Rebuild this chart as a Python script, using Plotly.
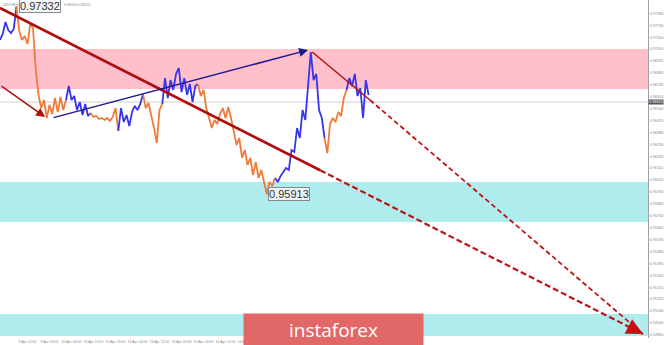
import plotly.graph_objects as go

# ---------------- data ----------------
hours = list(range(135))
close = [0.97079, 0.97124, 0.97215, 0.97154, 0.97131, 0.97162, 0.97332, 0.97147, 0.97079, 0.97109,
         0.97048, 0.97200, 0.97169, 0.96852, 0.96663, 0.96564, 0.96625, 0.96489, 0.96587, 0.96519,
         0.96640, 0.96534, 0.96648, 0.96549, 0.96625, 0.96731, 0.96625, 0.96655, 0.96549, 0.96610,
         0.96512, 0.96595, 0.96504, 0.96527, 0.96497, 0.96504, 0.96481, 0.96489, 0.96474, 0.96489,
         0.96466, 0.96497, 0.96564, 0.96391, 0.96564, 0.96459, 0.96512, 0.96428, 0.96534, 0.96580,
         0.96549, 0.96595, 0.96670, 0.96564, 0.96602, 0.96519, 0.96413, 0.96300, 0.96549, 0.96595,
         0.96791, 0.96640, 0.96776, 0.96701, 0.96822, 0.96867, 0.96685, 0.96791, 0.96663, 0.96746,
         0.96610, 0.96731, 0.96746, 0.96655, 0.96701, 0.96564, 0.96489, 0.96413, 0.96474, 0.96444,
         0.96519, 0.96564, 0.96489, 0.96572, 0.96489, 0.96398, 0.96285, 0.96338, 0.96187, 0.96247,
         0.96134, 0.96187, 0.96058, 0.96156, 0.96035, 0.96096, 0.95997, 0.95913, 0.96005, 0.95975,
         0.96035, 0.96005, 0.96050, 0.96081, 0.96111, 0.96096, 0.96247, 0.96232, 0.96413, 0.96338,
         0.96549, 0.96474, 0.96701, 0.96988, 0.96776, 0.96822, 0.96549, 0.96489, 0.96338, 0.96224,
         0.96444, 0.96489, 0.96459, 0.96534, 0.96504, 0.96640, 0.96701, 0.96791, 0.96731, 0.96822,
         0.96655, 0.96716, 0.96489, 0.96776, 0.96663]
wave_breaks = [0, 6, 24, 33, 43, 52, 59, 72, 100, 118, 126, 134]
wave_colors = ["#3535ee", "#f27a38"]

# zones (price bands)
pink_zone = [0.96708, 0.97011]
cyan_zone1 = [0.95703, 0.96005]
cyan_zone2 = [0.94841, 0.95007]
current_price = 0.96610

# wave lines (time index, price)
trend_x = [0, 116.4, 233.8]
trend_y = [0.97321, 0.96094, 0.94856]
fall_x = [113.5, 134.5, 233.8]
fall_y = [0.96988, 0.96625, 0.94856]
rise_x = [18.9, 112.0]
rise_y = [0.96489, 0.97003]
first_x = [0.0, 16.4]
first_y = [0.96738, 0.96497]
tip_tail = [229.5, 0.94902]

high_label = (6.9, 0.97332, "0.97332")
low_label = (97.6, 0.95913, "0.95913")
title_left = "USDCHF,H1"
title_right = "0.96604 0.96622"

y_ticks = [0.97370 - 0.0009 * i for i in range(29)]
x_tickvals = [2, 10, 18, 26, 34, 42, 50, 58, 66, 74, 82, 90]
x_ticktext = ["8 Apr 2020", "9 Apr 12:00", "9 Apr 20:00", "10 Apr 04:00", "10 Apr 12:00",
              "10 Apr 20:00", "13 Apr 04:00", "13 Apr 12:00", "13 Apr 20:00", "14 Apr 04:00",
              "14 Apr 12:00", "14 Apr 20:00"]

x_range = [0, 235.6]
y_range = [0.94826, 0.97381]

# ---------------- figure ----------------
fig = go.Figure()

shapes = []
for z, c in [(pink_zone, "#ffc0cb"), (cyan_zone1, "#aeeced"), (cyan_zone2, "#aeeced")]:
    shapes.append(dict(type="rect", xref="paper", yref="y", x0=0, x1=1, y0=z[0], y1=z[1],
                       fillcolor=c, line=dict(width=0), layer="below"))
shapes.append(dict(type="line", xref="paper", yref="y", x0=0, x1=1, y0=current_price,
                   y1=current_price, line=dict(color="#d0d0d0", width=1), layer="below"))

for i in range(len(wave_breaks) - 1):
    a, b = wave_breaks[i], wave_breaks[i + 1]
    fig.add_trace(go.Scatter(x=hours[a:b + 1], y=close[a:b + 1], mode="lines",
                             line=dict(color=wave_colors[i % 2], width=1.8),
                             hoverinfo="skip", showlegend=False))

# main trend line: solid then dashed
fig.add_trace(go.Scatter(x=trend_x[:2], y=trend_y[:2], mode="lines",
                         line=dict(color="#b00c0c", width=2.6), showlegend=False))
fig.add_trace(go.Scatter(x=trend_x[1:], y=trend_y[1:], mode="lines",
                         line=dict(color="#c01414", width=2.2, dash="6px,3px"), showlegend=False))
fig.add_trace(go.Scatter(x=fall_x[:2], y=fall_y[:2], mode="lines",
                         line=dict(color="#b81010", width=1.5), showlegend=False))
fig.add_trace(go.Scatter(x=fall_x[1:], y=fall_y[1:], mode="lines",
                         line=dict(color="#c01414", width=1.8, dash="5px,3px"), showlegend=False))

annotations = [
    dict(x=rise_x[1], y=rise_y[1], ax=rise_x[0], ay=rise_y[0], xref="x", yref="y",
         axref="x", ayref="y", text="", showarrow=True, arrowhead=2, arrowsize=1.2,
         arrowwidth=1.5, arrowcolor="#1c1c90", standoff=0),
    dict(x=first_x[1], y=first_y[1], ax=first_x[0], ay=first_y[0], xref="x", yref="y",
         axref="x", ayref="y", text="", showarrow=True, arrowhead=2, arrowsize=1.2,
         arrowwidth=1.5, arrowcolor="#b00c0c", standoff=0),
    dict(x=trend_x[2], y=trend_y[2], ax=tip_tail[0], ay=tip_tail[1], xref="x", yref="y",
         axref="x", ayref="y", text="", showarrow=True, arrowhead=2, arrowsize=1.5,
         arrowwidth=2.2, arrowcolor="#c01414", standoff=0),
]
for lx, ly, lt in [high_label, low_label]:
    annotations.append(dict(x=lx, y=ly, xref="x", yref="y", text=lt, showarrow=False,
                            xanchor="left", yanchor="middle",
                            font=dict(family="Liberation Sans", size=11, color="#333333"),
                            bgcolor="rgba(245,245,245,0.9)", bordercolor="#888888",
                            borderwidth=1, borderpad=0))
annotations.append(dict(x=1, y=current_price, xref="paper", yref="y", text="%.5f" % current_price,
                        showarrow=False, xanchor="left", yanchor="middle",
                        font=dict(family="Liberation Sans", size=3.8, color="white"),
                        bgcolor="#555555", borderpad=0))
annotations.append(dict(x=0.0015, y=0.998, xref="paper", yref="paper", text=title_left,
                        showarrow=False, xanchor="left", yanchor="top",
                        font=dict(family="Liberation Sans", size=3, color="#888888")))
annotations.append(dict(x=0.096, y=0.998, xref="paper", yref="paper", text=title_right,
                        showarrow=False, xanchor="left", yanchor="top",
                        font=dict(family="Liberation Sans", size=3.5, color="#888888")))
annotations.append(dict(x=0.5147, y=0.0266, xref="paper", yref="paper", text="instaforex",
                        showarrow=False, xanchor="center", yanchor="middle",
                        width=177, height=29, bgcolor="#e26868",
                        font=dict(family="Open Sans", size=19, color="white")))

fig.update_layout(
    width=665, height=345,
    margin=dict(l=0, r=17, t=0, b=7, pad=0, autoexpand=False),
    plot_bgcolor="white", paper_bgcolor="white",
    shapes=shapes, annotations=annotations, showlegend=False,
    xaxis=dict(range=x_range, showgrid=False, zeroline=False, showline=False,
               tickvals=x_tickvals, ticktext=x_ticktext, ticks="", ticklen=0,
               tickangle=0, automargin=False,
               tickfont=dict(family="Liberation Sans", size=3.5, color="#888888"), fixedrange=True),
    yaxis=dict(range=y_range, side="right", showgrid=False, zeroline=False,
               showline=True, linecolor="#a0a0a0", linewidth=1, automargin=False,
               tickvals=y_ticks, ticktext=["%.5f" % v for v in y_ticks],
               ticks="", ticklen=0,
               tickfont=dict(family="Liberation Sans", size=3.8, color="#888888"), fixedrange=True),
)

fig.write_html("out.html")
